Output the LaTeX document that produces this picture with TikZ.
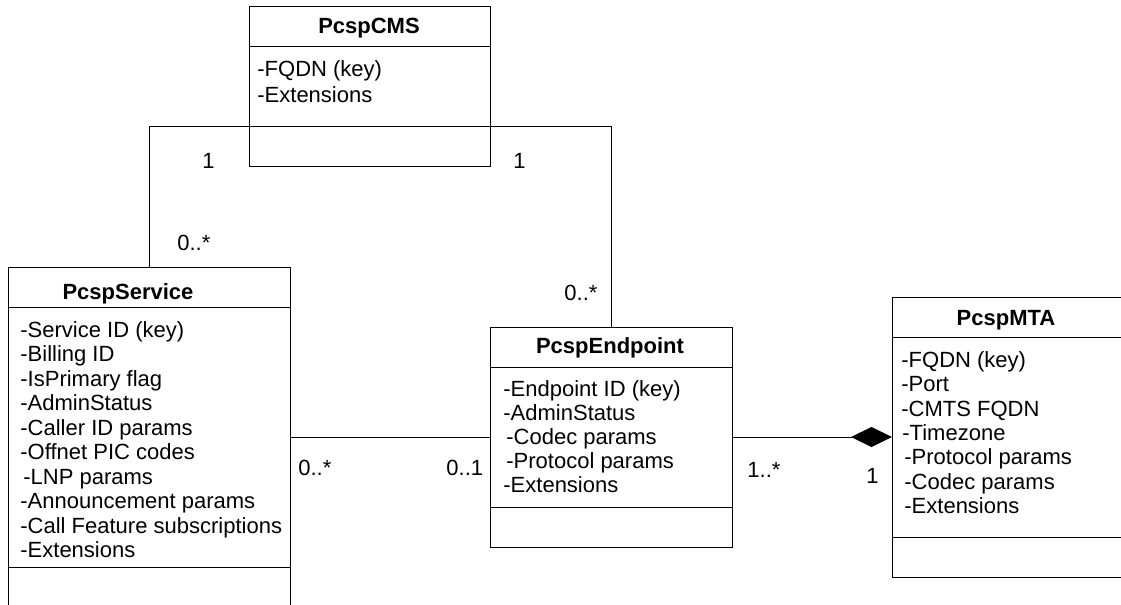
\documentclass[tikz,border=0pt]{standalone}
\usepackage{fontspec}
\setmainfont{Liberation Sans}
\usetikzlibrary{positioning}
\usetikzlibrary{arrows.meta}
\tikzset{
    classpart/.style = {rectangle, draw=black, line width=0.5pt, inner sep=0pt, outer sep=0pt},
    classname/.style = {anchor=base, inner sep=0pt, font=\fontsize{11pt}{12.2pt}\selectfont\bfseries},
    attrlist/.style = {align=left, anchor=base west, inner sep=0pt, font=\fontsize{11pt}{12.2pt}\selectfont}, % base = last line
    mult/.style = {anchor=base west, inner sep=0pt, font=\fontsize{11pt}{12.2pt}\selectfont},
    assoc/.style = {draw=black, line width=0.5pt},
    compos/.style = {assoc, -{Diamond[length=20.5pt,width=10pt]}}, % composition
}
\begin{document}
\begin{tikzpicture}[x=0.5pt, y=-0.5pt]
\useasboundingbox (0,0) rectangle (1121,605);
\clip (0,0) rectangle (1121,605);
%
% PcspCMS
\node[classpart, minimum width=120.5pt, minimum height=20pt] at (369.5,26) (cmsname) {};
\node[classpart, minimum width=120.5pt, minimum height=40pt, below=0pt of cmsname] (cmsattr) {};
\node[classpart, minimum width=120.5pt, minimum height=20pt, below=0pt of cmsattr] (cmsops) {};
\node[classname] at (369,33.3) (cmstitle) {PcspCMS};
\node[attrlist, font=\fontsize{11pt}{13.35pt}\selectfont] at (257,102.7) (cmslist) {-FQDN (key)\\-Extensions};
%
% PcspService
\node[classpart, minimum width=141pt, minimum height=20pt] at (149,287) (svcname) {};
\node[classpart, minimum width=141pt, minimum height=130pt, below=0pt of svcname] (svcattr) {};
\node[classpart, minimum width=141pt, minimum height=29pt, below=0pt of svcattr] (svcops) {};
\node[classname] at (128,299.3) (svctitle) {PcspService};
\node[attrlist, font=\fontsize{11pt}{12.25pt}\selectfont] at (20,557.8) (svclist)
  {-Service ID (key)\\-Billing ID\\-IsPrimary flag\\-AdminStatus\\-Caller ID params\\
   -Offnet PIC codes\\\hspace*{1.5pt}-LNP params\\-Announcement params\\
   -Call Feature subscriptions\\-Extensions};
%
% PcspEndpoint
\node[classpart, minimum width=121pt, minimum height=20pt] at (611,347) (epname) {};
\node[classpart, minimum width=121pt, minimum height=70pt, below=0pt of epname] (epattr) {};
\node[classpart, minimum width=121pt, minimum height=20pt, below=0pt of epattr] (epops) {};
\node[classname] at (610,353.3) (eptitle) {PcspEndpoint};
\node[attrlist, font=\fontsize{11pt}{12.1pt}\selectfont] at (503,492.8) (eplist)
  {-Endpoint ID (key)\\-AdminStatus\\\hspace*{1.5pt}-Codec params\\
   \hspace*{1.5pt}-Protocol params\\-Extensions};
%
% PcspMTA
\node[classpart, minimum width=116pt, minimum height=20pt] at (1008,317) (mtaname) {};
\node[classpart, minimum width=116pt, minimum height=100pt, below=0pt of mtaname] (mtaattr) {};
\node[classpart, minimum width=116pt, minimum height=20pt, below=0pt of mtaattr] (mtaops) {};
\node[classname] at (1006,325) (mtatitle) {PcspMTA};
\node[attrlist, font=\fontsize{11pt}{12.2pt}\selectfont] at (901,513.7) (mtalist)
  {-FQDN (key)\\-Port\\-CMTS FQDN\\\hspace*{0.5pt}-Timezone\\\hspace*{1.5pt}-Protocol params\\
   \hspace*{1.5pt}-Codec params\\\hspace*{1.5pt}-Extensions};
%
% associations
\draw[assoc] (cmsops.north west) -| (svcname.north);
\draw[assoc] (cmsops.north east) -| (epname.north);
\draw[assoc] (svcattr.east) -- (epattr.west);
\draw[compos] (epattr.east) -- (mtaattr.west);
%
% multiplicities
\node[mult] at (202,168) (m1) {1};
\node[mult] at (177,250) (m2) {0..*};
\node[mult] at (513,168) (m3) {1};
\node[mult] at (564,300) (m4) {0..*};
\node[mult] at (298,475) (m5) {0..*};
\node[mult] at (446,475) (m6) {0..1};
\node[mult] at (747,477) (m7) {1..*};
\node[mult] at (866,483) (m8) {1};

\end{tikzpicture}
\end{document}
